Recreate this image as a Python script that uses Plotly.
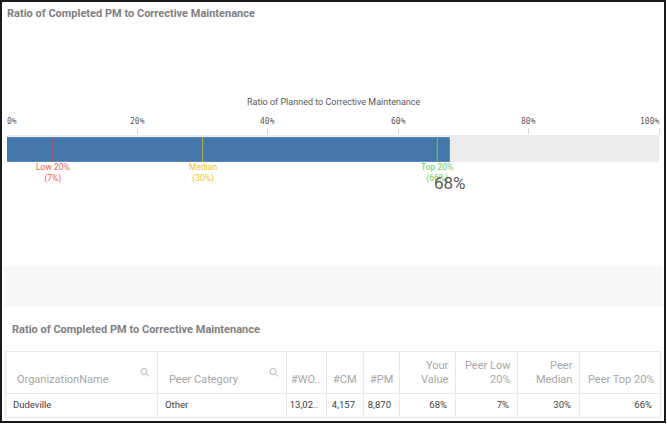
import plotly.graph_objects as go

W, H = 667, 424

# --- data ---------------------------------------------------------------
your_value = 68                      # ratio of planned to corrective (%)
ref_labels = ['Low 20%', 'Median', 'Top 20%']
ref_values = [7, 30, 66]
ref_text_colors = ['#f0604d', '#f2c22e', '#5fd35f']
ref_line_colors = ['#9b5c7c', '#a9a94f', '#55c45e']
axis_ticks = [0, 20, 40, 60, 80, 100]

org_names = ['Dudeville']
peer_categories = ['Other']
wo_counts = [13027]
cm_counts = [4157]
pm_counts = [8870]
peer_low = [7]
peer_median = [30]
peer_top = [66]

headers = ['OrganizationName', 'Peer Category', '#WO..', '#CM', '#PM',
           'Your<br>Value', 'Peer Low<br>20%', 'Peer<br>Median', 'Peer Top 20%']

title = 'Ratio of Completed PM to Corrective Maintenance'
axis_title = 'Ratio of Planned to Corrective Maintenance'

GREY_TXT = '#595959'
FONT = 'Roboto'


def px(x):   # pixel -> paper x
    return x / W


def py(y):   # pixel -> paper y (from top)
    return 1 - y / H


fig = go.Figure()

# blue bar on a light grey track
fig.add_trace(go.Bar(x=[your_value], y=[0.45], width=[0.9], orientation='h',
                     marker=dict(color='#4477aa', line=dict(color='#5a88bb', width=1)),
                     hoverinfo='skip', showlegend=False))

fig.update_layout(
    width=W, height=H,
    margin=dict(l=0, r=0, t=0, b=0),
    paper_bgcolor='white', plot_bgcolor='#ececec',
    font=dict(family=FONT, color=GREY_TXT),
    xaxis=dict(domain=[px(7), px(659)], range=[0, 100], side='top',
               showgrid=False, zeroline=False, showticklabels=False,
               ticks='outside', ticklen=6, tickcolor='#d6d6d6',
               tickvals=axis_ticks[1:], fixedrange=True),
    yaxis=dict(domain=[py(162), py(135)], range=[0, 1], visible=False, fixedrange=True),
    bargap=0,
)

# tick labels (ends anchored inside the axis like the original)
for i, t in enumerate(axis_ticks):
    anchor = 'left' if i == 0 else ('right' if i == len(axis_ticks) - 1 else 'center')
    shift = {'left': -2, 'right': 2, 'center': 0}[anchor]
    fig.add_annotation(x=t, xref='x', y=py(121), yref='paper', text=f'{t}%',
                       showarrow=False, xanchor=anchor, yanchor='middle', xshift=shift,
                       font=dict(family='DejaVu Sans Mono', size=8, color=GREY_TXT))

fig.add_annotation(x=0.5, xref='paper', y=py(102), yref='paper', text=axis_title,
                   showarrow=False, xanchor='center', yanchor='middle',
                   font=dict(size=9, color=GREY_TXT))

# reference lines and labels
for lab, v, tc, lc in zip(ref_labels, ref_values, ref_text_colors, ref_line_colors):
    fig.add_shape(type='line', xref='x', yref='y', x0=v, x1=v, y0=0, y1=0.9,
                  line=dict(color=lc, width=1.2))
    fig.add_annotation(x=v, xref='x', y=py(172.5), yref='paper',
                       text=f'{lab}<br>({v}%)', showarrow=False,
                       xanchor='center', yanchor='middle',
                       font=dict(size=8.5, color=tc))

fig.add_annotation(x=your_value, xref='x', y=py(183), yref='paper',
                   text=f'{your_value}%', showarrow=False,
                   xanchor='center', yanchor='middle',
                   font=dict(size=17, color=GREY_TXT))

# titles
for tx, ty in [(5, 13), (10, 329)]:
    fig.add_annotation(x=px(tx), xref='paper', y=py(ty), yref='paper', text=f'<b>{title}</b>',
                       showarrow=False, xanchor='left', yanchor='middle',
                       font=dict(size=11, color='#808080'))

# light grey band between chart and table
fig.add_shape(type='rect', xref='paper', yref='paper', x0=px(3), x1=px(663),
              y0=py(307), y1=py(266), line=dict(width=0), fillcolor='#f8f8f8', layer='below')

# table
def fmt_int(v):
    return f'{v:,}'


wo_txt = [fmt_int(v)[:5] + '..' if len(fmt_int(v)) > 5 else fmt_int(v) for v in wo_counts]
your_txt = [f'{round(p / w * 100)}%' for p, w in zip(pm_counts, wo_counts)]

cells = [org_names, peer_categories, wo_txt,
         [fmt_int(v) for v in cm_counts], [fmt_int(v) for v in pm_counts],
         your_txt, [f'{v}%' for v in peer_low], [f'{v}%' for v in peer_median],
         [f'{v}%' for v in peer_top]]
col_widths = [152, 129, 40, 37, 36, 56, 62, 62, 81]
aligns = ['left', 'left'] + ['right'] * 7
tbl_left, tbl_right = 5, 660

fig.add_trace(go.Table(
    domain=dict(x=[px(tbl_left), px(tbl_right)], y=[0, py(351)]),
    columnwidth=col_widths,
    header=dict(values=[''] * len(headers), height=42,
                fill_color='white', line=dict(color='#e8e8e8', width=1)),
    cells=dict(values=cells, align=aligns, height=24,
               fill_color='white', line=dict(color='#e8e8e8', width=1),
               font=dict(family=FONT, size=9.5, color='#404040')),
))

# header labels: each line right/left aligned inside its column
edge = tbl_left
for hdr, cw, al in zip(headers, col_widths, aligns):
    x = edge + 10 if al == 'left' else edge + cw - 4
    fig.add_annotation(x=px(x), xref='paper', y=py(388), yref='paper', text=hdr,
                       showarrow=False, xanchor=al, yanchor='bottom', align=al,
                       font=dict(family=FONT, size=11, color='#a6a6a6'))
    if al == 'left':
        # small magnifier icon at the right of searchable columns
        cx, cy = edge + cw - 13, 371.5
        fig.add_shape(type='circle', xref='paper', yref='paper',
                      x0=px(cx - 3), x1=px(cx + 3), y0=py(cy + 3), y1=py(cy - 3),
                      line=dict(color='#b3b3b3', width=1))
        fig.add_shape(type='line', xref='paper', yref='paper',
                      x0=px(cx + 2.2), x1=px(cx + 5), y0=py(cy + 2.2), y1=py(cy + 5),
                      line=dict(color='#b3b3b3', width=1))
    edge += cw

# outer frame
fig.add_shape(type='rect', xref='paper', yref='paper', x0=px(1), x1=px(665),
              y0=py(422), y1=py(1), line=dict(color='#1a1a1a', width=2))

fig.write_html('out.html', config={'displayModeBar': False},
               post_script="document.body.style.margin='0';")
